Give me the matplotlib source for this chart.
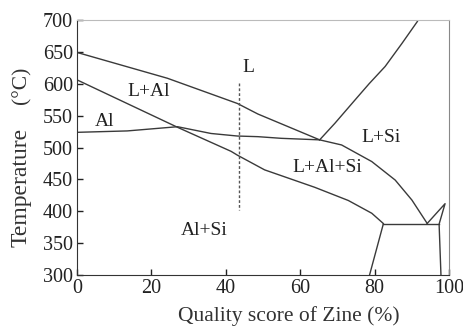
import numpy as np
import matplotlib.pyplot as plt

# phase boundaries (Zn %, temperature °C)
liq_al_x = [0, 24.3, 43.1, 48.6, 65.2]
liq_al_y = [649, 608.5, 569, 552.5, 512]

sol_al_x = [0, 27, 41.4, 43.1, 50.4, 63.9, 72.9, 79.2, 82.3]
sol_al_y = [606, 531.7, 494, 488, 465, 437.6, 417, 397, 381]

solvus_x = [0, 13.5, 27, 36, 43.1, 48.6, 54.9, 65.2, 71.1, 79.2, 85.5, 90, 94.1]
solvus_y = [523.8, 526, 532.6, 522, 518, 517, 514.4, 512, 504, 478, 449, 417.6, 381]

liq_si_x = [65.2, 69.3, 74.7, 78.5, 82.8, 87.3, 91.4, 91.7]
liq_si_y = [512, 538, 574.5, 600, 627, 663, 697, 700]

eut_x = [82.3, 97.3]
eut_y = [380, 380]

left_x = [82.3, 78.6]
left_y = [380, 300]

tri_x = [94.1, 98.9, 97.3, 97.8]
tri_y = [381, 412, 380, 300]

sect_x = [43.5, 43.5]
sect_y = [601, 402]

labels = ['L+Al', 'Al', 'L', 'L+Si', 'L+Al+Si', 'Al+Si']
label_x = [19.2, 7.3, 46, 81.6, 67.3, 34.3]
label_y = [587, 541, 625, 515, 468, 370]

plt.rcParams['font.family'] = ['Liberation Serif', 'DejaVu Serif']

fig = plt.figure(figsize=(4.64, 3.26), dpi=100)
ax = fig.add_axes([0.166, 0.156, 0.802, 0.783])

lc = '#3a3a3a'
for xs, ys in [(liq_al_x, liq_al_y), (sol_al_x, sol_al_y), (solvus_x, solvus_y),
               (liq_si_x, liq_si_y), (eut_x, eut_y), (left_x, left_y), (tri_x, tri_y)]:
    ax.plot(xs, ys, color=lc, lw=1.0)
ax.plot(sect_x, sect_y, color='#555555', lw=1.0, ls=(0, (2, 1.5)))

for t, x, y in zip(labels, label_x, label_y):
    ax.text(x, y, t, ha='center', va='center', fontsize=14, color='#222222')

ax.set_xlim(0, 100)
ax.set_ylim(300, 700)
ax.set_xticks([0, 20, 40, 60, 80, 100])
ax.set_yticks(np.arange(300, 701, 50))
ax.tick_params(direction='in', length=4, width=1, labelsize=14.5, colors='#222222', pad=3)

# axis titles placed where they sit in the original
fig.text(289 / 464, 1 - 320.5 / 326, 'Quality score of Zine (%)', fontsize=15.5,
         color='#333333', ha='center', va='baseline')
fig.text(21 / 464, 1 - 187 / 326, 'Temperature', fontsize=17,
         color='#333333', ha='center', va='center', rotation=90)
fig.text(22 / 464, 1 - 85 / 326, '(°C)', fontsize=15.5,
         color='#333333', ha='center', va='center', rotation=90)

ax.spines['left'].set_color('#333333')
ax.spines['bottom'].set_color('#333333')
ax.spines['top'].set_color('#bbbbbb')
ax.spines['right'].set_color('#888888')

fig.savefig('out.png', dpi=100)
